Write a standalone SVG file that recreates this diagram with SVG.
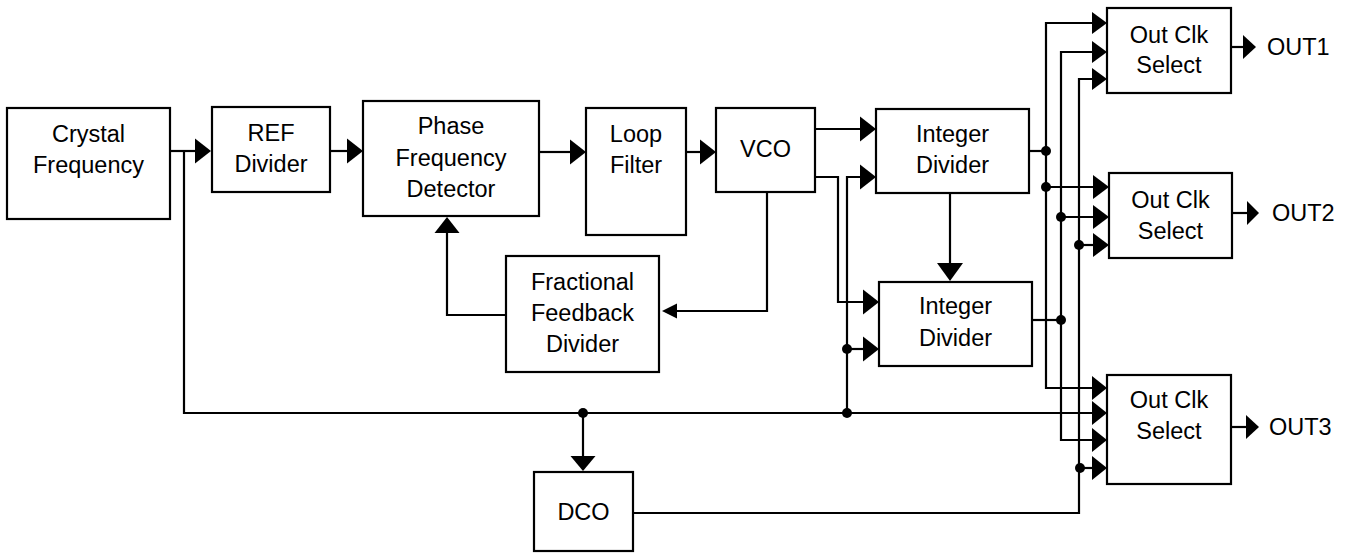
<svg xmlns="http://www.w3.org/2000/svg" width="1349" height="556" viewBox="0 0 1349 556">
<style>
.box{fill:#fff;stroke:#000;stroke-width:2.2}
.w{fill:none;stroke:#000;stroke-width:2.2}
.ah{fill:#000;stroke:none}
.dot{fill:#000}
text{font-family:"Liberation Sans",Arial,sans-serif;font-size:23.5px;fill:#000;text-anchor:middle}
.lbl{text-anchor:start}
</style>
<rect width="1349" height="556" fill="#fff"/>
<g id="connectors">
<!-- Crystal -> REF -->
<polyline class="w" points="170,151 196,151"/>
<polygon class="ah" points="195,138.5 211,151 195,163.5"/>
<!-- reference bus -->
<polyline class="w" points="184,151 184,413 1093,413"/>
<polygon class="ah" points="1092,401 1107,413 1092,425"/>
<!-- REF -> PFD -->
<polyline class="w" points="330,151 348,151"/>
<polygon class="ah" points="347,138.5 363,151 347,163.5"/>
<!-- PFD -> LF -->
<polyline class="w" points="539,152 571,152"/>
<polygon class="ah" points="570,139.5 586,152 570,164.5"/>
<!-- LF -> VCO -->
<polyline class="w" points="686,152 701,152"/>
<polygon class="ah" points="700,139.5 716,152 700,164.5"/>
<!-- VCO -> ID1 -->
<polyline class="w" points="815,129 861,129"/>
<polygon class="ah" points="860,116.5 876,129 860,141.5"/>
<!-- VCO -> ID2 -->
<polyline class="w" points="815,177 838,177 838,302 864,302"/>
<polygon class="ah" points="863,289.5 879,302 863,314.5"/>
<!-- ref bus -> ID1 / ID2 -->
<polyline class="w" points="847,413 847,177 861,177"/>
<polygon class="ah" points="860,164.5 876,177 860,189.5"/>
<polyline class="w" points="847,349 864,349"/>
<polygon class="ah" points="863,336.5 879,349 863,361.5"/>
<circle class="dot" cx="847" cy="349" r="5"/>
<circle class="dot" cx="847" cy="413" r="5"/>
<!-- VCO -> Fractional Feedback -->
<polyline class="w" points="767,192 767,311 676,311"/>
<polygon class="ah" points="677,303.5 662,311 677,318.5"/>
<!-- FFD -> PFD -->
<polyline class="w" points="506,315 447,315 447,232"/>
<polygon class="ah" points="434.5,233 447,217 459.5,233"/>
<!-- ID1 -> ID2 -->
<polyline class="w" points="950,193 950,264"/>
<polygon class="ah" points="937,263 950,281 963,263"/>
<!-- ID1 out -->
<polyline class="w" points="1029,151 1046,151"/>
<circle class="dot" cx="1046" cy="151" r="5"/>
<!-- bus 1046 -->
<polyline class="w" points="1093,23 1046,23 1046,388 1093,388"/>
<polygon class="ah" points="1092,12 1107,23 1092,34"/>
<polygon class="ah" points="1092,376 1107,388 1092,400"/>
<polyline class="w" points="1046,187 1094,187"/>
<polygon class="ah" points="1093,175 1109,187 1093,199"/>
<circle class="dot" cx="1046" cy="187" r="5"/>
<!-- bus 1061 -->
<polyline class="w" points="1093,52 1061,52 1061,440 1093,440"/>
<polygon class="ah" points="1092,41 1107,52 1092,63"/>
<polygon class="ah" points="1092,428 1107,440 1092,452"/>
<polyline class="w" points="1061,217 1094,217"/>
<polygon class="ah" points="1093,205 1109,217 1093,229"/>
<circle class="dot" cx="1061" cy="217" r="5"/>
<polyline class="w" points="1032,320 1061,320"/>
<circle class="dot" cx="1061" cy="320" r="5"/>
<!-- bus 1079 (DCO) -->
<polyline class="w" points="633,513 1079,513 1079,79 1093,79"/>
<polygon class="ah" points="1092,68 1107,79 1092,90"/>
<polyline class="w" points="1079,245 1094,245"/>
<polygon class="ah" points="1093,233 1109,245 1093,257"/>
<circle class="dot" cx="1079" cy="245" r="5"/>
<polyline class="w" points="1079,468 1093,468"/>
<polygon class="ah" points="1092,456 1107,468 1092,480"/>
<circle class="dot" cx="1080" cy="468" r="5"/>
<!-- ref bus -> DCO -->
<polyline class="w" points="583,413 583,457"/>
<polygon class="ah" points="570.5,456 583,471 595.5,456"/>
<circle class="dot" cx="583" cy="413" r="5"/>
<!-- outputs -->
<polyline class="w" points="1231,47 1244,47"/>
<polygon class="ah" points="1243,35 1256,47 1243,59"/>
<polyline class="w" points="1232,213 1248,213"/>
<polygon class="ah" points="1247,201 1259,213 1247,225"/>
<polyline class="w" points="1231,427 1247,427"/>
<polygon class="ah" points="1246,415 1259,427 1246,439"/>
</g>
<g id="crystal"><rect class="box" x="7" y="108" width="163" height="111"/><text x="88.5" y="142">Crystal</text><text x="88.5" y="173">Frequency</text></g>
<g id="ref-divider"><rect class="box" x="212" y="107" width="118" height="85"/><text x="271" y="141">REF</text><text x="271" y="172">Divider</text></g>
<g id="pfd"><rect class="box" x="363" y="101" width="176" height="115"/><text x="451" y="134">Phase</text><text x="451" y="166">Frequency</text><text x="451" y="197">Detector</text></g>
<g id="loop-filter"><rect class="box" x="586" y="108" width="100" height="127"/><text x="636" y="142">Loop</text><text x="636" y="173">Filter</text></g>
<g id="vco"><rect class="box" x="716" y="108" width="99" height="84"/><text x="765.5" y="157">VCO</text></g>
<g id="int-div-1"><rect class="box" x="876" y="109" width="153" height="84"/><text x="952.5" y="142">Integer</text><text x="952.5" y="173">Divider</text></g>
<g id="int-div-2"><rect class="box" x="879" y="282" width="153" height="84"/><text x="955.5" y="314">Integer</text><text x="955.5" y="346">Divider</text></g>
<g id="frac-fb"><rect class="box" x="506" y="256" width="153" height="116"/><text x="582.5" y="290">Fractional</text><text x="582.5" y="321">Feedback</text><text x="582.5" y="352">Divider</text></g>
<g id="ocs1"><rect class="box" x="1107" y="8" width="124" height="85"/><text x="1169" y="43">Out Clk</text><text x="1169" y="73">Select</text></g>
<g id="ocs2"><rect class="box" x="1109" y="173" width="123" height="85"/><text x="1170.5" y="208">Out Clk</text><text x="1170.5" y="239">Select</text></g>
<g id="ocs3"><rect class="box" x="1107" y="375" width="124" height="109"/><text x="1169" y="408">Out Clk</text><text x="1169" y="439">Select</text></g>
<g id="dco"><rect class="box" x="534" y="472" width="99" height="79"/><text x="583.5" y="520">DCO</text></g>
<g id="out-labels"><text class="lbl" x="1267" y="55">OUT1</text><text class="lbl" x="1272" y="221">OUT2</text><text class="lbl" x="1269" y="435">OUT3</text></g>
</svg>
